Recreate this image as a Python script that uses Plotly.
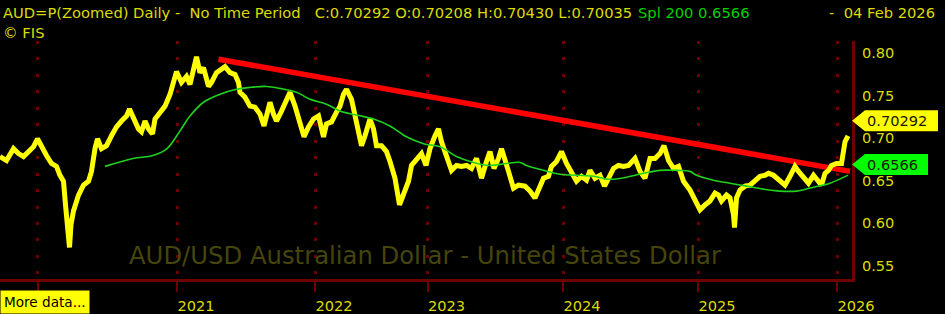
import plotly.graph_objects as go

# ---------------- data ----------------
price_bar = [0,13,27,37,47,57,67,75,83,93,103,113,120,127,131,137,139,142,147,157,167,177,183,190,195,203,213,223,233,243,253,259,267,277,283,290,297,305,310,320,330,340,350,353,363,373,380,387,393,400,407,417,423,433,440,450,460,470,477,480,490,500,510,520,528,535,540,547,553,563,573,580,590,600,608,617,627,637,647,653,663,673,680,687,693,703,710,717,723,730,740,747,753,763,773,780,790,799,807,817,823,833,843,852,860,870,877,883,893,903,913,923,933,943,953,963,973,980,988,997,1003,1010,1017,1027,1037,1050,1060,1070,1080,1087,1097,1103,1113,1123,1133,1143,1153,1163,1173,1180,1190,1200,1209,1217,1227,1237,1247,1257,1270,1280,1290,1300,1310,1320,1328,1337,1347,1357,1367,1380,1390,1400,1410,1420,1430,1437,1443,1453,1460,1467,1469,1473,1480,1490,1500,1510,1520,1530,1537,1547,1553,1560,1570,1580,1590,1597,1607,1617,1627,1637,1643,1650,1657,1663,1673,1683,1687,1690,1696]
price_close = [0.6785,0.6738,0.6878,0.6820,0.6785,0.6843,0.6901,0.6994,0.6901,0.6797,0.6703,0.6669,0.6564,0.6494,0.6215,0.5773,0.5715,0.5983,0.6145,0.6331,0.6448,0.6494,0.6610,0.6878,0.6994,0.6878,0.6913,0.7029,0.7134,0.7203,0.7262,0.7343,0.7250,0.7110,0.7076,0.7203,0.7110,0.7052,0.7227,0.7308,0.7378,0.7517,0.7692,0.7785,0.7657,0.7727,0.7634,0.7785,0.7959,0.7773,0.7831,0.7610,0.7657,0.7773,0.7808,0.7843,0.7773,0.7750,0.7657,0.7541,0.7483,0.7378,0.7366,0.7285,0.7145,0.7320,0.7424,0.7285,0.7203,0.7320,0.7459,0.7541,0.7378,0.7203,0.7017,0.7134,0.7227,0.7262,0.7017,0.7169,0.7192,0.7308,0.7378,0.7517,0.7576,0.7459,0.7262,0.7076,0.6913,0.7029,0.7227,0.7110,0.6913,0.6913,0.6843,0.6727,0.6529,0.6215,0.6331,0.6494,0.6680,0.6762,0.6820,0.6680,0.6878,0.7029,0.7110,0.6959,0.6797,0.6622,0.6680,0.6669,0.6680,0.6645,0.6762,0.6529,0.6727,0.6843,0.6645,0.6762,0.6878,0.6762,0.6610,0.6413,0.6448,0.6436,0.6378,0.6297,0.6436,0.6529,0.6552,0.6669,0.6727,0.6843,0.6703,0.6610,0.6494,0.6552,0.6506,0.6622,0.6529,0.6564,0.6436,0.6529,0.6645,0.6680,0.6669,0.6680,0.6762,0.6610,0.6529,0.6762,0.6762,0.6820,0.6913,0.6738,0.6645,0.6669,0.6494,0.6390,0.6262,0.6157,0.6215,0.6262,0.6355,0.6331,0.6262,0.6331,0.6297,0.6099,0.5948,0.6297,0.6390,0.6436,0.6448,0.6506,0.6552,0.6564,0.6587,0.6564,0.6529,0.6494,0.6448,0.6552,0.6669,0.6610,0.6529,0.6471,0.6564,0.6494,0.6448,0.6587,0.6622,0.6680,0.6703,0.6703,0.6843,0.6959,0.70292]

sma_bar = [210,266,306,334,360,380,407,440,473,500,533,560,593,620,653,680,713,747,780,813,847,880,913,947,980,1013,1040,1053,1087,1120,1153,1187,1220,1253,1287,1320,1353,1380,1393,1427,1460,1493,1527,1560,1593,1627,1660,1696]
sma_value = [0.6669,0.6762,0.6797,0.6878,0.7087,0.7262,0.7424,0.7517,0.7576,0.7599,0.7610,0.7587,0.7541,0.7459,0.7401,0.7320,0.7273,0.7227,0.7145,0.7017,0.6936,0.6901,0.6785,0.6715,0.6680,0.6703,0.6715,0.6680,0.6622,0.6576,0.6564,0.6552,0.6517,0.6541,0.6587,0.6622,0.6622,0.6610,0.6564,0.6506,0.6471,0.6436,0.6401,0.6378,0.6378,0.6424,0.6471,0.6566]

trend_bar = [437, 1700]
trend_value = [0.793, 0.661]

# first year (2020) sits under the "More data..." button in the reference
year_tick_bar = [75, 354, 630, 855, 1126, 1396, 1674]
year_tick_text = ["", "2021", "2022", "2023", "2024", "2025", "2026"]

y_tick_vals = [0.55, 0.60, 0.65, 0.70, 0.75, 0.80]

last_close = 0.70292
last_open = 0.70208
last_high = 0.70430
last_low = 0.70035
last_sma = 0.6566

# ---------------- layout constants ----------------
W, H = 945, 314
ML, MR, MT, MB = 0, 93, 41, 32
PW, PH = W - ML - MR, H - MT - MB
X_RANGE = [0, 1704]
Y_RANGE = [0.5343, 0.8145]

FONT = "DejaVu Sans"
TXT_YEL = "#dcdc00"
AXIS_RED = "#6e0000"


def px_x(px):
    return (px - ML) / PW


def px_y(py):
    return (MT + PH - py) / PH


def val_paper(v):
    return (v - Y_RANGE[0]) / (Y_RANGE[1] - Y_RANGE[0])


fig = go.Figure()

fig.add_trace(go.Scatter(x=trend_bar, y=trend_value, mode="lines",
                         line=dict(color="#ff0000", width=5.5), hoverinfo="skip"))
fig.add_trace(go.Scatter(x=price_bar, y=price_close, mode="lines",
                         line=dict(color="#ffff00", width=5), hoverinfo="skip"))
fig.add_trace(go.Scatter(x=sma_bar, y=sma_value, mode="lines", line_shape="spline",
                         line=dict(color="#1ed21e", width=1.6), hoverinfo="skip"))

annotations = []
shapes = []

# header
annotations.append(dict(
    xref="paper", yref="paper", x=px_x(1), y=px_y(12), xanchor="left", yanchor="middle",
    text=("AUD=P(Zoomed) Daily -\u00a0\u00a0No Time Period\u00a0\u00a0\u00a0"
          f"C:{last_close:.5f} O:{last_open:.5f} H:{last_high:.5f} L:{last_low:.5f}"),
    showarrow=False, font=dict(family=FONT, size=14.7, color=TXT_YEL)))
annotations.append(dict(
    xref="paper", yref="paper", x=px_x(636), y=px_y(12), xanchor="left", yanchor="middle",
    text=f"Spl 200 {last_sma:.4f}", showarrow=False,
    font=dict(family=FONT, size=14.7, color="#00d200")))
annotations.append(dict(
    xref="paper", yref="paper", x=px_x(937), y=px_y(12), xanchor="right", yanchor="middle",
    text="-\u00a0\u00a004 Feb 2026", showarrow=False,
    font=dict(family=FONT, size=14.7, color=TXT_YEL)))
annotations.append(dict(
    xref="paper", yref="paper", x=px_x(1), y=px_y(32), xanchor="left", yanchor="middle",
    text="© FIS", showarrow=False,
    font=dict(family=FONT, size=14.7, color=TXT_YEL)))

# watermark
annotations.append(dict(
    xref="paper", yref="paper", x=px_x(425), y=px_y(258), xanchor="center", yanchor="middle",
    text="AUD/USD Australian Dollar - United States Dollar", showarrow=False,
    font=dict(family=FONT, size=24.3, color="#45450c")))

# More data button
annotations.append(dict(
    xref="paper", yref="paper", x=0, y=px_y(305.5), xanchor="left", yanchor="middle",
    text="More data...", showarrow=False, bgcolor="#ffff00", borderpad=3,
    font=dict(family=FONT, size=13.6, color="#000000")))

# value badges
for val, txt, col, width, shift in [(last_close, f"{last_close:.5f}", "#ffff00", 86, 15),
                                    (last_sma, f"{last_sma:.4f}", "#00ff00", 76, 10.5)]:
    half = 10.5
    path = (f"M0,{shift} L13,{shift + half} L{width},{shift + half} "
            f"L{width},{shift - half} L13,{shift - half} Z")
    shapes.append(dict(type="path", xref="paper", yref="paper",
                       xsizemode="pixel", ysizemode="pixel",
                       xanchor=1, yanchor=val_paper(val), path=path,
                       fillcolor=col, line=dict(width=0), layer="above"))
    annotations.append(dict(
        xref="paper", yref="paper", x=1, y=val_paper(val), xanchor="left", yanchor="middle",
        xshift=13, yshift=shift, text=txt, showarrow=False,
        font=dict(family=FONT, size=14.6, color="#1a1a00")))

fig.update_layout(
    width=W, height=H,
    margin=dict(l=ML, r=MR, t=MT, b=MB, pad=0),
    paper_bgcolor="#000000", plot_bgcolor="#000000",
    showlegend=False,
    annotations=annotations, shapes=shapes,
    xaxis=dict(range=X_RANGE, tickmode="array", tickvals=year_tick_bar, ticktext=year_tick_text,
               showgrid=True, gridcolor=AXIS_RED, gridwidth=3, griddash="3px,13.45px",
               zeroline=False, showline=True, linecolor=AXIS_RED, linewidth=3,
               ticks="outside", ticklen=10, tickwidth=2, tickcolor=AXIS_RED,
               ticklabelshift=19, ticklabelstandoff=1,
               tickfont=dict(family=FONT, size=14.6, color=TXT_YEL), fixedrange=True),
    yaxis=dict(range=Y_RANGE, side="right", tickmode="array", tickvals=y_tick_vals,
               ticktext=[f"{v:.2f}" for v in y_tick_vals],
               showgrid=False, zeroline=False, showline=True, linecolor=AXIS_RED, linewidth=3,
               ticks="", ticklabelstandoff=4,
               tickfont=dict(family=FONT, size=14.6, color=TXT_YEL), fixedrange=True),
)

fig.write_html("out.html", config={"displayModeBar": False})
